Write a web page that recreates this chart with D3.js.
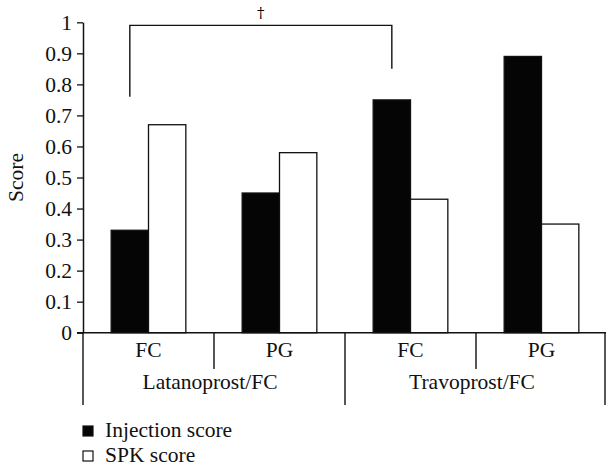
<!DOCTYPE html>
<html><head><meta charset="utf-8">
<script src="https://cdn.jsdelivr.net/npm/d3@7"></script>
<style>body{margin:0;background:#fff}svg{display:block}text{font-family:"Liberation Serif",serif;fill:#111}</style>
</head><body><svg id="c" width="606" height="467"></svg>
<script>
const categories = ["FC","PG","FC","PG"];
const groups = ["Latanoprost/FC","Travoprost/FC"];
const series = ["Injection score","SPK score"];
const injection = [0.33,0.45,0.75,0.89];
const spk = [0.67,0.58,0.43,0.35];
const yTicks = [0,0.1,0.2,0.3,0.4,0.5,0.6,0.7,0.8,0.9,1];
const yTickLabels = ["0","0.1","0.2","0.3","0.4","0.5","0.6","0.7","0.8","0.9","1"];
const bracket = {from:0, to:2, leftEnd:0.76, rightEnd:0.85, top:0.99, mark:"†"};

const FS = 21.5;
const svg = d3.select("#c");
const y = d3.scaleLinear().domain([0,1]).range([332.7,22.3]);
const x = d3.scaleBand().domain(d3.range(categories.length)).range([83,607]).padding(0);
const bw = x.bandwidth();
const xs = d3.scaleBand().domain(series).range([bw*0.215, bw*0.785]).padding(0);
const colors = {"Injection score":"#050505","SPK score":"#fff"};
const data = categories.map((c,i)=>({i, vals:[{s:series[0],v:injection[i]},{s:series[1],v:spk[i]}]}));

const g = svg.selectAll("g.cat").data(data).join("g").attr("class","cat")
  .attr("transform",d=>`translate(${x(d.i)},0)`);
g.selectAll("rect").data(d=>d.vals).join("rect")
  .attr("x",d=>xs(d.s)).attr("width",xs.bandwidth())
  .attr("y",d=>y(d.v)).attr("height",d=>y(0)-y(d.v))
  .attr("fill",d=>colors[d.s]).attr("stroke","#111").attr("stroke-width",1.3);

// y axis
const ya = d3.axisLeft(y).tickValues(yTicks).tickFormat((d,i)=>yTickLabels[i]).tickSize(6).tickSizeOuter(0).tickPadding(5);
const yg = svg.append("g").attr("transform","translate(83,0)").call(ya)
  .attr("font-family","Liberation Serif").attr("font-size",FS);
yg.select(".domain").attr("stroke","#111").attr("stroke-width",1.5);
yg.selectAll(".tick line").attr("stroke","#111").attr("stroke-width",1.3);
yg.selectAll(".tick text").attr("fill","#111");

// x baseline
svg.append("line").attr("x1",77).attr("x2",606).attr("y1",y(0)).attr("y2",y(0)).attr("stroke","#111").attr("stroke-width",1.5);
// separators
const edges = d3.range(categories.length+1).map(i=> i<categories.length ? x(i) : x(i-1)+bw);
edges.forEach((ex,i)=>{
  const long = i%2===0;
  svg.append("line").attr("x1",Math.min(ex,605)).attr("x2",Math.min(ex,605))
    .attr("y1",y(0)).attr("y2",long?405:369).attr("stroke","#111").attr("stroke-width",1.4);
});
// category labels
svg.selectAll("text.cl").data(categories).join("text").attr("class","cl")
  .attr("x",(d,i)=>x(i)+bw/2).attr("y",357).attr("text-anchor","middle").attr("font-size",FS).text(d=>d);
svg.selectAll("text.gl").data(groups).join("text").attr("class","gl")
  .attr("x",(d,i)=>x(i*2)+bw-4).attr("y",389).attr("text-anchor","middle").attr("font-size",FS).text(d=>d);

// y label
svg.append("text").attr("transform",`translate(23,${(y(0)+y(1))/2}) rotate(-90)`)
  .attr("text-anchor","middle").attr("font-size",FS).text("Score");

// bracket
const bx1 = x(bracket.from)+xs(series[0])+xs.bandwidth()/2;
const bx2 = x(bracket.to)+xs(series[0])+xs.bandwidth()/2;
svg.append("path").attr("fill","none").attr("stroke","#111").attr("stroke-width",1.4)
  .attr("d",`M${bx1},${y(bracket.leftEnd)}V${y(bracket.top)}H${bx2}V${y(bracket.rightEnd)}`);
svg.append("text").attr("x",(bx1+bx2)/2).attr("y",18).attr("text-anchor","middle")
  .style("font-family","'DejaVu Serif',serif").style("fill","#000").attr("font-size",15).text(bracket.mark);

// legend
const lg = svg.selectAll("g.lg").data(series).join("g").attr("class","lg")
  .attr("transform",(d,i)=>`translate(83,${426+i*25})`);
lg.append("rect").attr("width",10).attr("height",10).attr("fill",d=>colors[d]).attr("stroke","#111").attr("stroke-width",1.2);
lg.append("text").attr("x",22).attr("y",10.5).attr("font-size",FS).text(d=>d);
</script></body></html>
